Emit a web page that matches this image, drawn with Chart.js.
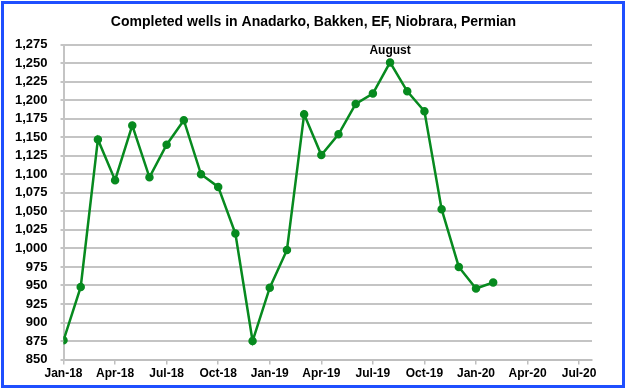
<!DOCTYPE html>
<html>
<head>
<meta charset="utf-8">
<script src="https://cdn.jsdelivr.net/npm/chart.js@4/dist/chart.umd.min.js"></script>
<style>
  html, body { margin: 0; padding: 0; background: #fff; }
  #wrap { position: absolute; left: 0; top: 0; width: 627px; height: 391px; }
  #frame { position: absolute; left: 1px; top: 1px; width: 618px; height: 381px;
           border: 3px solid #1f4fff; pointer-events: none; }
</style>
</head>
<body>
<div id="wrap"><canvas id="wells_chart" width="627" height="391"></canvas></div>
<div id="frame"></div>
<script>
// months from Jan-18 to Feb-20
var months = ["Jan-18", "Feb-18", "Mar-18", "Apr-18", "May-18", "Jun-18", "Jul-18", "Aug-18", "Sep-18",
  "Oct-18", "Nov-18", "Dec-18", "Jan-19", "Feb-19", "Mar-19", "Apr-19", "May-19", "Jun-19", "Jul-19",
  "Aug-19", "Sep-19", "Oct-19", "Nov-19", "Dec-19", "Jan-20", "Feb-20"];
var completedWells = [876, 948, 1147, 1092, 1166, 1096, 1140, 1173, 1100, 1083, 1020, 875, 947, 998,
  1181, 1126, 1154, 1195, 1209, 1251, 1212, 1185, 1053, 975, 946, 954];
var xTickLabels = ["Jan-18", "Apr-18", "Jul-18", "Oct-18", "Jan-19", "Apr-19", "Jul-19", "Oct-19",
  "Jan-20", "Apr-20", "Jul-20"];
var noteMonth = "Aug-19";
var noteText = "August";
var titleText = "Completed wells in Anadarko, Bakken, EF, Niobrara, Permian";

var green = "#078a1f";
var font = "'Liberation Sans', Arial, sans-serif";

var points = completedWells.map(function(v, i) { return { x: i, y: v }; });

// title centred on the whole picture, plus the "August" note over its point
var labels = {
  id: "labels",
  afterDatasetsDraw: function(chart) {
    var ctx = chart.ctx;
    ctx.save();
    ctx.fillStyle = "#000";
    ctx.textAlign = "center";
    ctx.textBaseline = "middle";
    ctx.font = "bold 14px " + font;
    ctx.fillText(titleText, chart.width / 2, 22);

    var pt = chart.getDatasetMeta(0).data[months.indexOf(noteMonth)];
    ctx.font = "bold 12px " + font;
    ctx.fillText(noteText, pt.x, pt.y - 12);
    ctx.restore();
  }
};

var chart = new Chart("wells_chart", {
  type: "line",
  data: {
    datasets: [{
      data: points,
      borderColor: green,
      backgroundColor: green,
      borderWidth: 2.5,
      pointRadius: 3,
      pointBackgroundColor: green,
      pointBorderColor: green,
      tension: 0
    }]
  },
  options: {
    responsive: false,
    animation: false,
    layout: { padding: { left: 2, right: 35, top: 4, bottom: 8 } },
    plugins: {
      legend: { display: false },
      tooltip: { enabled: false },
      title: {
        // space is reserved here; text itself is drawn by the labels plugin
        display: true,
        text: " ",
        font: { family: font, size: 13, weight: "bold" },
        padding: { top: 12, bottom: 13 }
      }
    },
    scales: {
      x: {
        type: "linear",
        min: 0,
        max: 30.75,
        afterBuildTicks: function(axis) {
          axis.ticks = xTickLabels.map(function(l, i) { return { value: i * 3 }; });
        },
        ticks: {
          color: "#000",
          font: { family: font, size: 12, weight: "bold" },
          maxRotation: 0,
          autoSkip: false,
          padding: 2,
          callback: function(v) { return xTickLabels[Math.round(v / 3)]; }
        },
        grid: { drawOnChartArea: false, drawTicks: true, tickLength: 5, color: "#bfbfbf", lineWidth: 1.5 },
        border: { color: "#bfbfbf", width: 2 }
      },
      y: {
        min: 850,
        max: 1275,
        ticks: {
          stepSize: 25,
          autoSkip: false,
          color: "#000",
          font: { family: font, size: 13, weight: "bold" },
          padding: 13,
          callback: function(v) { return v.toLocaleString("en-US"); }
        },
        grid: { color: "#c4c4c4", lineWidth: 2, tickLength: 3 },
        border: { color: "#c4c4c4", width: 2 }
      }
    }
  },
  plugins: [labels]
});
</script>
</body>
</html>
